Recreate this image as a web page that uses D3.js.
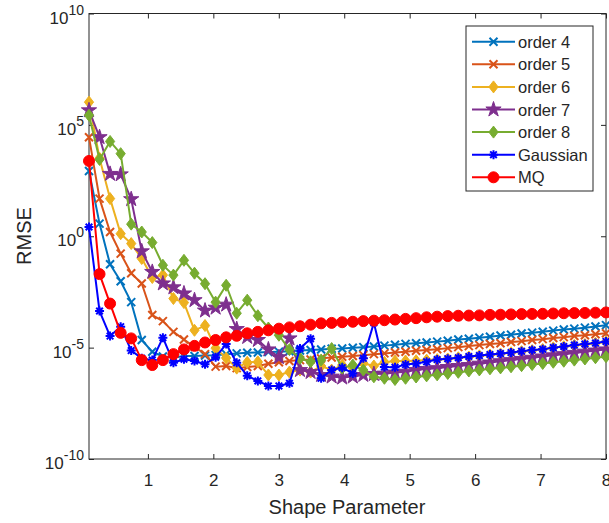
<!DOCTYPE html>
<html><head><meta charset="utf-8">
<script src="https://cdn.jsdelivr.net/npm/d3@7"></script>
<style>
body{margin:0;background:#fff}
text{font-family:"Liberation Sans",Arial,Helvetica,sans-serif;fill:#262626}
</style>
</head><body><svg id="c" width="609" height="523"></svg>
<script>
const shapeParam = [0.1,0.261,0.422,0.584,0.745,0.906,1.067,1.229,1.390,1.551,1.712,1.873,2.035,2.196,2.357,2.518,2.680,2.841,3.002,3.163,3.324,3.486,3.647,3.808,3.969,4.131,4.292,4.453,4.614,4.776,4.937,5.098,5.259,5.420,5.582,5.743,5.904,6.065,6.227,6.388,6.549,6.710,6.871,7.033,7.194,7.355,7.516,7.678,7.839,8.0];

const order4 = [8.5e2,3.7e0,5.5e-2,9.5e-3,1.1e-3,2.2e-5,6.5e-6,4.0e-6,3.5e-6,4.2e-6,4.2e-6,4.4e-6,4.6e-6,5.1e-6,5.5e-6,5.9e-6,6.0e-6,6.3e-6,6.6e-6,6.9e-6,7.4e-6,7.8e-6,8.3e-6,8.9e-6,9.1e-6,9.8e-6,1.05e-5,1.12e-5,1.23e-5,1.35e-5,1.48e-5,1.58e-5,1.7e-5,1.86e-5,2.05e-5,2.3e-5,2.5e-5,2.8e-5,3.1e-5,3.5e-5,3.8e-5,4.3e-5,4.7e-5,5.2e-5,5.8e-5,6.5e-5,7.1e-5,7.9e-5,8.9e-5,1.02e-4];

const order5 = [2.8e4,4.9e1,1.55e0,1.66e-1,2.2e-2,7.6e-3,2.9e-4,1.55e-4,5.1e-5,2.3e-5,1.1e-5,5.1e-6,1.4e-6,1.5e-6,1.2e-6,1.35e-6,1.5e-6,1.9e-6,2.2e-6,2.5e-6,2.75e-6,2.95e-6,3.3e-6,3.6e-6,3.9e-6,4.2e-6,4.6e-6,5.1e-6,5.5e-6,6.0e-6,6.5e-6,7.2e-6,7.8e-6,8.5e-6,9.5e-6,1.05e-5,1.17e-5,1.3e-5,1.45e-5,1.58e-5,1.78e-5,1.95e-5,2.2e-5,2.4e-5,2.7e-5,2.95e-5,3.3e-5,3.6e-5,4.0e-5,4.4e-5];

const order6 = [1.05e6,3.2e3,4.9e1,1.3e0,4.7e-1,1.0e-1,1.4e-2,1.8e-2,1.6e-3,1.05e-3,6.0e-5,9.8e-5,9.5e-6,3.4e-6,1.2e-6,2.2e-6,2.3e-6,5.9e-7,5.9e-7,8.0e-7,9.8e-7,8.0e-7,1.5e-6,9.8e-7,1.65e-6,1.2e-6,2.0e-6,1.5e-6,2.2e-6,2.5e-6,2.5e-6,2.6e-6,2.75e-6,2.9e-6,3.1e-6,3.5e-6,3.8e-6,4.3e-6,4.7e-6,5.2e-6,5.9e-6,6.6e-6,7.4e-6,8.3e-6,9.8e-6,1.1e-5,1.26e-5,1.38e-5,1.58e-5,1.8e-5];

const order7 = [4.5e5,2.8e4,6.3e2,6.0e2,4.6e1,2.1e-1,2.5e-2,7.6e-3,5.1e-3,2.7e-3,1.35e-3,4.6e-4,6.2e-4,8.5e-4,6.8e-5,3.0e-5,2.2e-5,8.3e-6,3.7e-6,2.6e-5,9.8e-7,8.0e-7,5.9e-7,5.0e-7,4.5e-7,5.0e-7,5.9e-7,6.5e-7,6.8e-7,7.6e-7,8.3e-7,9.8e-7,1.1e-6,1.2e-6,1.35e-6,1.5e-6,1.65e-6,1.9e-6,2.15e-6,2.45e-6,2.75e-6,3.1e-6,3.5e-6,4.0e-6,4.5e-6,5.1e-6,5.8e-6,6.6e-6,7.4e-6,8.3e-6];

const order8 = [2.7e5,2.8e3,1.8e4,5.1e3,3.5e0,1.55e0,5.2e-1,5.0e-2,1.8e-2,8.3e-2,2.2e-2,7.4e-3,1.1e-3,6.3e-3,3.5e-4,1.35e-3,2.7e-4,7.6e-5,3.6e-5,8.1e-6,3.3e-6,2.3e-6,2.75e-6,9.1e-6,1.2e-6,1.65e-6,9.8e-7,4.9e-7,4.2e-7,3.7e-7,4.2e-7,4.8e-7,5.4e-7,6.0e-7,6.9e-7,7.8e-7,8.9e-7,1.0e-6,1.12e-6,1.23e-6,1.38e-6,1.55e-6,1.74e-6,1.95e-6,2.2e-6,2.45e-6,2.75e-6,3.1e-6,3.5e-6,3.9e-6];

const gaussian = [2.6e0,4.4e-4,3.3e-5,8.7e-5,7.4e-6,3.3e-6,2.75e-6,2.8e-5,2.1e-6,3.0e-6,2.5e-6,1.8e-6,3.7e-6,1.45e-5,2.1e-6,5.5e-7,3.2e-7,1.9e-7,1.9e-7,2.5e-7,9.1e-6,2.5e-5,4.2e-7,1.0e-6,1.26e-6,6.9e-7,3.3e-6,1.3e-4,1.35e-6,1.3e-6,1.74e-6,1.95e-6,2.3e-6,2.9e-6,3.2e-6,3.5e-6,4.0e-6,4.4e-6,4.9e-6,5.4e-6,6.0e-6,6.8e-6,7.8e-6,8.5e-6,1.0e-5,1.12e-5,1.3e-5,1.45e-5,1.6e-5,1.9e-5];

const mq = [2.4e3,2.0e-2,9.5e-4,4.6e-5,2.6e-5,2.75e-6,1.65e-6,2.75e-6,5.1e-6,8.3e-6,1.2e-5,1.7e-5,2.2e-5,2.9e-5,3.4e-5,4.4e-5,5.1e-5,6.0e-5,7.1e-5,8.1e-5,9.1e-5,1.07e-4,1.23e-4,1.29e-4,1.38e-4,1.45e-4,1.55e-4,1.62e-4,1.7e-4,1.82e-4,1.95e-4,2.1e-4,2.3e-4,2.45e-4,2.6e-4,2.7e-4,2.75e-4,2.8e-4,2.95e-4,3.0e-4,3.1e-4,3.2e-4,3.25e-4,3.3e-4,3.4e-4,3.5e-4,3.55e-4,3.6e-4,3.7e-4,3.8e-4];

const seriesNames = ["order 4","order 5","order 6","order 7","order 8","Gaussian","MQ"];
const seriesColors = ["#0072BD","#D95319","#EDB120","#7E2F8E","#77AC30","#0000FF","#FF0000"];
const seriesMarkers = ["x","x","diamond","star","diamond","asterisk","circle"];
const seriesValues = [order4,order5,order6,order7,order8,gaussian,mq];

const xTickValues = [1,2,3,4,5,6,7,8];
const yTickExponents = [-10,-5,0,5,10];
const xLabel = "Shape Parameter";
const yLabel = "RMSE";

const svg = d3.select("#c");
const L = 89, R = 606, T = 13.5, B = 459;
const x = d3.scaleLinear().domain([0.1, 8]).range([L, R]);
const y = d3.scaleLog().domain([1e-10, 1e10]).range([B, T]);
const axisColor = "#262626";
const fontFam = '"Liberation Sans",Arial,Helvetica,sans-serif';

// axes box
svg.append("rect").attr("x", L).attr("y", T).attr("width", R - L).attr("height", B - T)
  .attr("fill", "none").attr("stroke", axisColor).attr("stroke-width", 1);

// x axis (bottom + mirrored top ticks)
const gx = svg.append("g").attr("transform", `translate(0,${B})`)
  .call(d3.axisBottom(x).tickValues(xTickValues).tickSize(-5).tickPadding(15).tickFormat(d3.format("d")));
gx.select(".domain").remove();
gx.selectAll("line").attr("stroke", axisColor);
gx.selectAll("text").attr("font-size", 17).attr("fill", axisColor).style("font-family", fontFam);
const gxt = svg.append("g").attr("transform", `translate(0,${T})`)
  .call(d3.axisTop(x).tickValues(xTickValues).tickSize(-5).tickFormat(""));
gxt.select(".domain").remove();
gxt.selectAll("line").attr("stroke", axisColor);

// y axis
const yTickVals = yTickExponents.map(e => Math.pow(10, e));
const gy = svg.append("g").attr("transform", `translate(${L},0)`)
  .call(d3.axisLeft(y).tickValues(yTickVals).tickSize(-5).tickFormat(""));
gy.select(".domain").remove();
gy.selectAll("line").attr("stroke", axisColor);
const gyr = svg.append("g").attr("transform", `translate(${R},0)`)
  .call(d3.axisRight(y).tickValues(yTickVals).tickSize(-5).tickFormat(""));
gyr.select(".domain").remove();
gyr.selectAll("line").attr("stroke", axisColor);

yTickExponents.forEach(e => {
  const t = svg.append("text").attr("x", L - 5).attr("y", y(Math.pow(10, e)) + 10)
    .attr("text-anchor", "end").attr("font-size", 17).attr("fill", axisColor);
  t.append("tspan").text("10");
  t.append("tspan").attr("dy", -9).attr("font-size", 14).text(String(e));
});

// labels
svg.append("text").attr("x", 347).attr("y", 514).attr("text-anchor", "middle")
  .attr("font-size", 20).text(xLabel);
svg.append("text").attr("transform", `translate(31,236) rotate(-90)`)
  .attr("text-anchor", "middle").attr("font-size", 20).text(yLabel);

// markers
function markerPath(type) {
  const p = d3.path();
  if (type === "x") {
    const s = 4;
    p.moveTo(-s, -s); p.lineTo(s, s); p.moveTo(-s, s); p.lineTo(s, -s);
    return p.toString();
  }
  if (type === "asterisk") {
    const s = 4.5, d = 3.3;
    p.moveTo(-s, 0); p.lineTo(s, 0); p.moveTo(0, -s); p.lineTo(0, s);
    p.moveTo(-d, -d); p.lineTo(d, d); p.moveTo(-d, d); p.lineTo(d, -d);
    return p.toString();
  }
  if (type === "diamond") {
    const h = 6, w = 4.6;
    p.moveTo(0, -h); p.lineTo(w, 0); p.lineTo(0, h); p.lineTo(-w, 0); p.closePath();
    return p.toString();
  }
  if (type === "star") return d3.symbol().type(d3.symbolStar).size(72)();
  if (type === "circle") return d3.symbol().type(d3.symbolCircle).size(95)();
}
const filled = {x: false, asterisk: false, diamond: true, star: true, circle: true};

const line = d3.line().x((d, i) => x(shapeParam[i])).y(d => y(d));

seriesValues.forEach((vals, k) => {
  const g = svg.append("g");
  const c = seriesColors[k], mk = seriesMarkers[k];
  g.append("path").attr("d", line(vals)).attr("fill", "none").attr("stroke", c)
    .attr("stroke-width", 2).attr("stroke-linejoin", "round");
  g.selectAll("path.m").data(vals).join("path").attr("class", "m")
    .attr("transform", (d, i) => `translate(${x(shapeParam[i])},${y(d)})`)
    .attr("d", markerPath(mk))
    .attr("fill", filled[mk] ? c : "none").attr("stroke", c).attr("stroke-width", filled[mk] ? 1 : 2);
});

// legend
const lx = 466, ly = 26, lw = 127, lh = 165;
const lg = svg.append("g");
lg.append("rect").attr("x", lx).attr("y", ly).attr("width", lw).attr("height", lh)
  .attr("fill", "#fff").attr("stroke", axisColor).attr("stroke-width", 1);
seriesNames.forEach((n, k) => {
  const cy = 41.7 + k * 22.6;
  const c = seriesColors[k], mk = seriesMarkers[k];
  lg.append("line").attr("x1", 472).attr("x2", 515).attr("y1", cy).attr("y2", cy)
    .attr("stroke", c).attr("stroke-width", 2);
  lg.append("path").attr("transform", `translate(493.5,${cy})`).attr("d", markerPath(mk))
    .attr("fill", filled[mk] ? c : "none").attr("stroke", c).attr("stroke-width", filled[mk] ? 1 : 2);
  lg.append("text").attr("x", 518).attr("y", cy + 6).attr("font-size", 16.5).attr("fill", "#000").text(n);
});
</script></body></html>
